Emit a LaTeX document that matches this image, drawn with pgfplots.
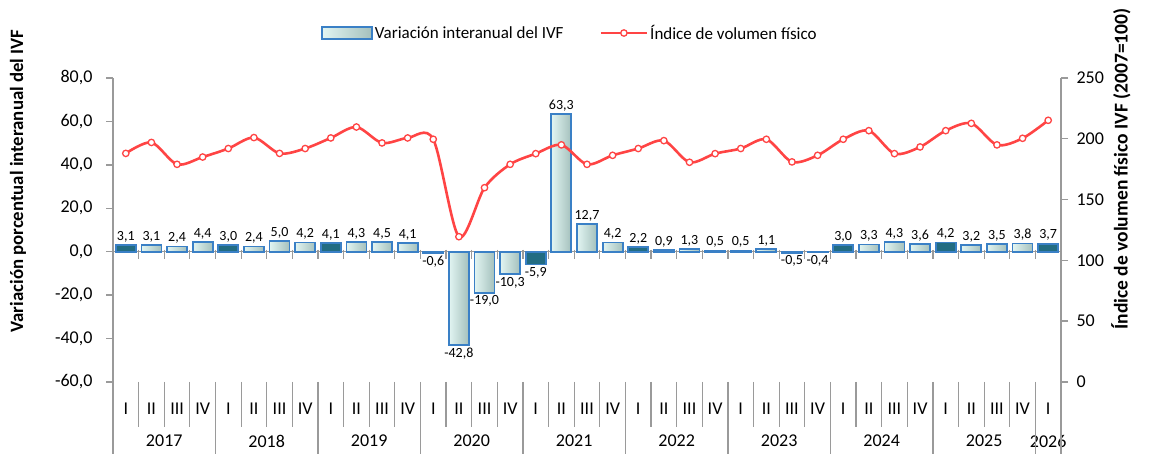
\documentclass[border=0pt]{standalone}
\usepackage{pgfplots}
\pgfplotsset{compat=1.18}
\usepackage{fontspec}
\setmainfont{Carlito}
\definecolor{axgray}{HTML}{9A9A9A}
\definecolor{barblue}{HTML}{3A80C6}
\definecolor{linered}{HTML}{FF4444}
\definecolor{lbL}{HTML}{E2F5F2}
\definecolor{lbM}{HTML}{F6FDFC}
\definecolor{lbR}{HTML}{A4C0BC}
\definecolor{dbE}{HTML}{226C82}
\definecolor{dbM}{HTML}{44A886}

\pgfplotstableread{
x y
0 3.1
4 3.0
8 4.1
12 -0.6
16 -5.9
20 2.2
24 0.5
28 3.0
32 4.2
36 3.7
}\qone
\pgfplotstableread{
x y
1 3.1
2 2.4
3 4.4
5 2.4
6 5.0
7 4.2
9 4.3
10 4.5
11 4.1
13 -42.8
14 -19.0
15 -10.3
17 63.3
18 12.7
19 4.2
21 0.9
22 1.3
23 0.5
25 1.1
26 -0.5
27 -0.4
29 3.3
30 4.3
31 3.6
33 3.2
34 3.5
35 3.8
}\qrest
\pgfplotstableread{
x y
0 188
1 197
2 179
3 185
4 192
5 201
6 188
7 192
8 200.7
9 209.7
10 196.6
11 200.7
12 199.6
13 119.5
14 159.8
15 179
16 187.8
17 195
18 179
19 186.4
20 192
21 198.5
22 180.7
23 187.8
24 192
25 199.6
26 181
27 186.4
28 199.6
29 206.7
30 187.8
31 193.3
32 206.7
33 212.7
34 195
35 200.4
36 215.2
}\ivf

\pgfplotsset{
  lightbar/.style={draw=barblue, line width=1.8pt, left color=lbL, middle color=lbM, right color=lbR},
  darkbar/.style={draw=barblue, line width=1.8pt, left color=dbE, middle color=dbM, right color=dbE},
  barlegend/.style={legend image code/.code={\draw[##1] (0pt,-6pt) rectangle (50pt,6pt);}},
  linelegend/.style={legend image code/.code={\draw[##1, mark repeat=2, mark phase=2] plot coordinates {(0pt,0pt) (23pt,0pt) (46pt,0pt)};}},
}

\begin{document}
\begin{tikzpicture}
\useasboundingbox (0pt,0pt) rectangle (1158pt,454pt);
\begin{axis}[
  at={(113pt,72pt)}, anchor=south west,
  scale only axis, width=948pt, height=304pt,
  xmin=-0.5, xmax=36.5, ymin=-60, ymax=80,
  clip=false,
  /pgf/number format/assume math mode=true,
  axis y line*=left,
  axis x line*=bottom,
  x axis line style={draw=none},
  y axis line style={axgray, line width=1.4pt},
  ytick={-60,-40,...,80},
  ytick style={axgray, line width=1.4pt},
  tick align=outside, major tick length=7pt,
  scaled y ticks=false,
  yticklabel style={/pgf/number format/fixed, /pgf/number format/fixed zerofill, /pgf/number format/precision=1, /pgf/number format/use comma, font=\fontsize{18}{20}\selectfont, xshift=-10pt},
  xtick={0,...,36},
  xticklabels={I,II,III,IV,I,II,III,IV,I,II,III,IV,I,II,III,IV,I,II,III,IV,I,II,III,IV,I,II,III,IV,I,II,III,IV,I,II,III,IV,I},
  xtick style={draw=none},
  xticklabel style={anchor=center, yshift=-20pt, font=\fontsize{18}{20}\selectfont},
  extra x ticks={1.5,5.5,9.5,13.5,17.5,21.5,25.5,29.5,33.5,36},
  extra x tick labels={2017,2018,2019,2020,2021,2022,2023,2024,2025,2026},
  extra x tick style={xtick style={draw=none}, xticklabel style={yshift=-32pt}},
  nodes near coords={\pgfmathprintnumber[fixed,fixed zerofill,precision=1,use comma]{\pgfplotspointmeta}},
  every node near coord/.append style={font=\fontsize{14}{16}\selectfont, text=black, inner sep=2pt},
]
\draw[axgray, line width=1.4pt] (axis cs:-0.5,0) -- (axis cs:36.5,0);
\pgfplotsinvokeforeach{0.5,1.5,...,35.5}{\draw[axgray, line width=1.2pt] (axis cs:#1,0) ++(0pt,2pt) -- ++(0pt,-9pt);}
\pgfplotsinvokeforeach{1,2,3,5,6,7,9,10,11,13,14,15,17,18,19,21,22,23,25,26,27,29,30,31,33,34,35}{
  \addplot[ybar, bar width=20pt, bar shift=0pt, lightbar, restrict x to domain=#1:#1] table[x=x,y=y] {\qrest};
}
\pgfplotsinvokeforeach{0,4,8,12,16,20,24,28,32,36}{
  \addplot[ybar, bar width=20pt, bar shift=0pt, darkbar, restrict x to domain=#1:#1] table[x=x,y=y] {\qone};
}
\pgfplotsinvokeforeach{0.5,1.5,2.5,4.5,5.5,6.5,8.5,9.5,10.5,12.5,13.5,14.5,16.5,17.5,18.5,20.5,21.5,22.5,24.5,25.5,26.5,28.5,29.5,30.5,32.5,33.5,34.5}{\draw[axgray, line width=1.2pt] (axis cs:#1,-60) -- ++(0pt,-45pt);}
\pgfplotsinvokeforeach{-0.5,3.5,7.5,11.5,15.5,19.5,23.5,27.5,31.5,35.5,36.5}{\draw[axgray, line width=1.2pt] (axis cs:#1,-60) -- ++(0pt,-72pt);}
\end{axis}
\begin{axis}[
  at={(113pt,72pt)}, anchor=south west,
  scale only axis, width=948pt, height=304pt,
  xmin=-0.5, xmax=36.5, ymin=0, ymax=250,
  axis y line*=right, axis x line=none,
  y axis line style={axgray, line width=1.4pt},
  ytick={0,50,...,250},
  ytick style={axgray, line width=1.4pt},
  tick align=outside, major tick length=7pt,
  /pgf/number format/assume math mode=true,
  yticklabel style={font=\fontsize{18}{20}\selectfont, xshift=5pt},
  legend style={at={(0.482,1.148)}, anchor=center, draw=none, fill=none, font=\fontsize{17}{19}\selectfont, legend columns=2, /tikz/every even column/.append style={column sep=34pt}},
]
\addlegendimage{lightbar, barlegend}
\addlegendentry{Variación interanual del IVF}
\addplot[linered, line width=2.6pt, smooth, tension=0.5, mark=*, mark size=3.2pt, mark options={fill=white, draw=linered, line width=1.3pt}, linelegend] table[x=x,y=y] {\ivf};
\addlegendentry{Índice de volumen físico}
\end{axis}
\node[rotate=90, font=\bfseries\fontsize{18.8}{21}\selectfont] at (18pt,273pt) {Variación porcentual interanual del IVF};
\node[rotate=90, font=\bfseries\fontsize{19.5}{22}\selectfont] at (1121pt,285pt) {Índice de volumen físico IVF (2007=100)};
\end{tikzpicture}
\end{document}
